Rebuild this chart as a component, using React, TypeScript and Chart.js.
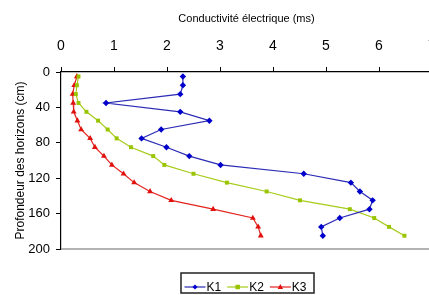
import React, { useEffect, useRef } from "react";
import { Chart, registerables } from "chart.js";

Chart.register(...registerables);

const depths = [5, 15, 25, 35, 45, 55, 65, 75, 85, 95, 105, 115, 125, 135, 145, 155, 165, 175, 185];
const k1 = [2.3, 2.3, 2.25, 0.85, 2.25, 2.8, 1.89, 1.52, 1.99, 2.42, 3.01, 4.58, 5.47, 5.64, 5.88, 5.82, 5.26, 4.91, 4.94];
const k2 = [0.33, 0.3, 0.28, 0.33, 0.48, 0.7, 0.88, 1.05, 1.32, 1.74, 1.95, 2.5, 3.13, 3.88, 4.51, 5.45, 5.91, 6.19, 6.48];
const k3 = [0.3, 0.25, 0.22, 0.23, 0.24, 0.31, 0.38, 0.55, 0.64, 0.81, 0.96, 1.18, 1.38, 1.68, 2.08, 2.87, 3.62, 3.72, 3.77];
const seriesNames = ["K1", "K2", "K3"];
const xTitle = "Conductivité électrique (ms)";
const yTitle = "Profondeur des horizons (cm)";

const NARROW = "'Liberation Sans Narrow', 'Liberation Sans', Arial, sans-serif";
const SANS = "'Liberation Sans', Arial, sans-serif";

const styles = [
  { line: "#2b2bb5", point: "#0000cc", shape: "rectRot", r: 3.2 },
  { line: "#a6cc1a", point: "#99c400", shape: "rect", r: 2.8 },
  { line: "#e3231e", point: "#e0100c", shape: "triangle", r: 3.4 },
];

function drawMarker(ctx: CanvasRenderingContext2D, shape: string, x: number, y: number, r: number) {
  ctx.beginPath();
  if (shape === "rectRot") {
    ctx.moveTo(x, y - r);
    ctx.lineTo(x + r, y);
    ctx.lineTo(x, y + r);
    ctx.lineTo(x - r, y);
  } else if (shape === "rect") {
    ctx.rect(x - r, y - r, 2 * r, 2 * r);
  } else {
    ctx.moveTo(x, y - r * 1.1);
    ctx.lineTo(x + r, y + r * 0.7);
    ctx.lineTo(x - r, y + r * 0.7);
  }
  ctx.closePath();
  ctx.fill();
}

const framePlugin = {
  id: "frameAndLegend",
  beforeDatasetsDraw(chart: any) {
    const { ctx, chartArea } = chart;
    ctx.save();
    ctx.strokeStyle = "#9a9a9a";
    ctx.lineWidth = 1.5;
    ctx.beginPath();
    ctx.moveTo(chartArea.left, chartArea.bottom);
    ctx.lineTo(chartArea.right, chartArea.bottom);
    ctx.lineTo(chartArea.right, chartArea.top);
    ctx.stroke();
    ctx.restore();
  },
  afterDraw(chart: any) {
    const { ctx } = chart;
    ctx.save();
    const boxL = 181, boxT = 273, boxR = 314, boxB = 293;
    ctx.strokeStyle = "#222";
    ctx.lineWidth = 1.5;
    ctx.beginPath();
    ctx.moveTo(boxL, boxB);
    ctx.lineTo(boxL, boxT);
    ctx.lineTo(boxR, boxT);
    ctx.lineTo(boxR, boxB);
    ctx.closePath();
    ctx.stroke();
    const ly = 287;
    ctx.font = "12px " + NARROW;
    ctx.textBaseline = "middle";
    ctx.textAlign = "left";
    let x = boxL + 3.5;
    chart.data.datasets.forEach((ds: any, i: number) => {
      const st = styles[i];
      ctx.strokeStyle = st.line;
      ctx.lineWidth = 1.2;
      ctx.beginPath();
      ctx.moveTo(x, ly);
      ctx.lineTo(x + 21, ly);
      ctx.stroke();
      ctx.fillStyle = st.point;
      drawMarker(ctx, st.shape, x + 10.5, ly, st.r * 0.8);
      ctx.fillStyle = "#000";
      ctx.fillText(ds.label, x + 22, ly + 0.5);
      x += 22 + ctx.measureText(ds.label).width + 6;
    });
    ctx.restore();
  },
};

export default function App() {
  const ref = useRef<HTMLCanvasElement>(null);
  useEffect(() => {
    if (!ref.current) return;
    const all = [k1, k2, k3];
    const chart = new Chart(ref.current, {
      type: "line",
      data: {
        datasets: all.map((vals, i) => ({
          label: seriesNames[i],
          data: vals.map((v, j) => ({ x: v, y: depths[j] })),
          borderColor: styles[i].line,
          backgroundColor: styles[i].point,
          pointBackgroundColor: styles[i].point,
          pointBorderColor: styles[i].point,
          pointBorderWidth: 0,
          pointStyle: styles[i].shape as any,
          pointRadius: styles[i].r,
          borderWidth: 1.2,
          tension: 0,
          fill: false,
        })),
      },
      options: {
        animation: false,
        responsive: false,
        maintainAspectRatio: false,
        layout: { padding: { left: 8, top: 8, right: 5, bottom: 46 } },
        plugins: { legend: { display: false }, tooltip: { enabled: false } },
        scales: {
          x: {
            type: "linear",
            position: "top",
            min: 0,
            max: 7,
            ticks: { stepSize: 1, color: "#000", font: { family: NARROW, size: 14 }, padding: 12 },
            grid: { drawOnChartArea: false, drawTicks: true, tickLength: 5, color: "#000" },
            border: { display: true, color: "#000", width: 1.2 },
            title: { display: true, text: xTitle, color: "#000", font: { family: NARROW, size: 11 }, padding: { top: 4, bottom: 0 } },
            afterFit: (s: any) => { s.height = 64; s.paddingLeft = 0; s.paddingRight = 0; },
          },
          y: {
            type: "linear",
            reverse: true,
            min: 0,
            max: 200,
            ticks: { stepSize: 40, color: "#000", font: { family: NARROW, size: 13 }, padding: 6 },
            grid: { drawOnChartArea: false, drawTicks: true, tickLength: 5, color: "#000" },
            border: { display: true, color: "#000", width: 1.2 },
            title: { display: true, text: yTitle, color: "#000", font: { family: SANS, size: 12 }, padding: { top: 5, bottom: 0 } },
            afterFit: (s: any) => { s.width = 53; s.paddingTop = 0; s.paddingBottom = 0; },
          },
        },
      },
      plugins: [framePlugin],
    });
    return () => chart.destroy();
  }, []);
  return (
    <div style={{ position: "fixed", left: 0, top: 0, width: 429, height: 295, overflow: "hidden", background: "#fff" }}>
      <canvas ref={ref} width={437} height={295} style={{ display: "block", width: 437, height: 295 }} />
    </div>
  );
}
